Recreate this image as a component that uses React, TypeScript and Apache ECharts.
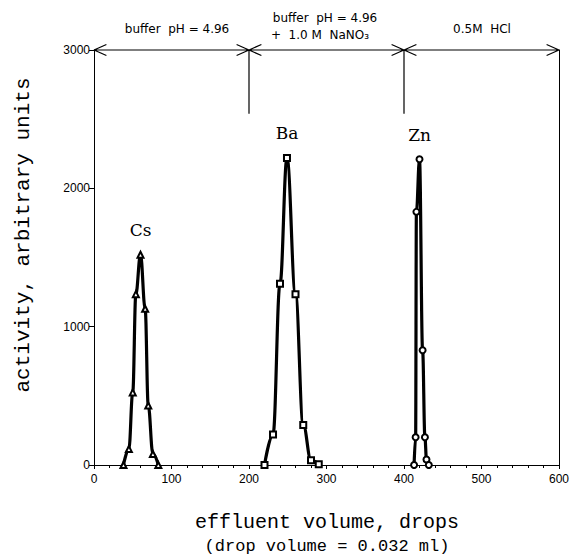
import React, { useEffect, useRef } from "react";
import * as echarts from "echarts";

// Elution data (effluent volume in drops, activity in arbitrary units)
const csDrops = [38, 45, 50, 54, 60, 66, 70, 76, 83];
const csActivity = [0, 115, 525, 1235, 1520, 1130, 430, 80, 0];

const baDrops = [220, 231, 240, 249, 260, 270, 280, 290];
const baActivity = [0, 220, 1310, 2220, 1235, 290, 35, 5];

const znDrops = [413, 415, 416, 420, 424, 427, 429, 432];
const znActivity = [0, 200, 1830, 2210, 830, 200, 40, 0];

// Eluent regions (bracket boundaries, drops) and labels
const regionBounds = [0, 200, 400, 600];
const dividerBottom = 2540;
const regionTop = 3000;

const xTicks = { min: 0, max: 600, interval: 100 };
const yTicks = { min: 0, max: 3000, interval: 1000 };

const zip = (xs: number[], ys: number[]) => xs.map((x, i) => [x, ys[i]]);

export default function App() {
  const ref = useRef<HTMLDivElement>(null);
  useEffect(() => {
    if (!ref.current) return;
    const chart = echarts.init(ref.current, undefined, { renderer: "svg" });

    const chevW = 16;
    const chevH = 40;
    const bracket: any[] = [];
    bracket.push([regionBounds[0], regionTop], [regionBounds[regionBounds.length - 1], regionTop], null);
    regionBounds.forEach((b, i) => {
      if (i > 0) {
        bracket.push([b - chevW, regionTop + chevH], [b, regionTop], [b - chevW, regionTop - chevH], null);
      }
      if (i < regionBounds.length - 1) {
        bracket.push([b + chevW, regionTop + chevH], [b, regionTop], [b + chevW, regionTop - chevH], null);
      }
      if (i > 0 && i < regionBounds.length - 1) {
        bracket.push([b, regionTop], [b, dividerBottom], null);
      }
    });

    const peakLabel = (name: string) => ({
      show: true,
      position: "top",
      distance: 12,
      formatter: name,
      fontFamily: "DejaVu Serif",
      fontSize: 17,
      color: "#000",
    });

    const mkSeries = (name: string, xs: number[], ys: number[], symbol: string) => {
      const peak = Math.max(...ys);
      const data = zip(xs, ys).map((p, i) =>
        ys[i] === peak ? { value: p, label: peakLabel(name) } : { value: p }
      );
      return {
        type: "line",
        name,
        data,
        smooth: 0.4,
        smoothMonotone: "x",
        symbol,
        symbolSize: 6,
        showAllSymbol: true,
        lineStyle: { color: "#000", width: 3.2 },
        itemStyle: { color: "#000", borderColor: "#000", borderWidth: 1.3 },
        z: 3,
      };
    };

    const textStyleSans = { fontFamily: "DejaVu Sans", fontSize: 12, fill: "#000" };

    chart.setOption({
      animation: false,
      backgroundColor: "#fff",
      grid: { left: 94, right: 14, top: 50, bottom: 90 },
      xAxis: {
        type: "value",
        min: xTicks.min,
        max: xTicks.max,
        interval: xTicks.interval,
        axisLine: { show: true, lineStyle: { color: "#000", width: 1 } },
        axisTick: { show: true, inside: false, length: 4, lineStyle: { color: "#000" } },
        minorTick: { show: true, splitNumber: 5, length: 3, lineStyle: { color: "#000" } },
        axisLabel: { color: "#000", fontFamily: "Liberation Sans", fontSize: 12, margin: 8, formatter: (v: number) => String(v) },
        splitLine: { show: false },
      },
      yAxis: [
        {
          type: "value",
          min: yTicks.min,
          max: yTicks.max,
          interval: yTicks.interval,
          axisLine: { show: true, lineStyle: { color: "#000", width: 1 } },
          axisTick: { show: true, inside: false, length: 5, lineStyle: { color: "#000" } },
          axisLabel: { color: "#000", fontFamily: "Liberation Sans", fontSize: 12, margin: 4, formatter: (v: number) => String(v) },
          splitLine: { show: false },
        },
        {
          type: "value",
          position: "right",
          min: yTicks.min,
          max: yTicks.max,
          interval: yTicks.interval,
          axisLine: { show: true, lineStyle: { color: "#000", width: 1 } },
          axisTick: { show: false },
          axisLabel: { show: false },
          splitLine: { show: false },
        },
      ],
      series: [
        {
          type: "line",
          data: bracket,
          symbol: "none",
          clip: false,
          connectNulls: false,
          lineStyle: { color: "#000", width: 1.2 },
          silent: true,
          z: 2,
        },
        mkSeries("Cs", csDrops, csActivity, "emptyTriangle"),
        mkSeries("Ba", baDrops, baActivity, "emptyRect"),
        mkSeries("Zn", znDrops, znActivity, "emptyCircle"),
      ],
      graphic: [
        { type: "text", x: 177, y: 29, style: { ...textStyleSans, text: "buffer  pH = 4.96", align: "center", verticalAlign: "middle" } },
        { type: "text", x: 325, y: 18, style: { ...textStyleSans, text: "buffer  pH = 4.96", align: "center", verticalAlign: "middle" } },
        { type: "text", x: 320, y: 35, style: { ...textStyleSans, text: "+  1.0 M  NaNO₃", align: "center", verticalAlign: "middle" } },
        { type: "text", x: 482, y: 29, style: { ...textStyleSans, text: "0.5M  HCl", align: "center", verticalAlign: "middle" } },
        {
          type: "text",
          x: 327,
          y: 522,
          style: { text: "effluent volume, drops", fontFamily: "Liberation Mono", fontSize: 20, fill: "#000", align: "center", verticalAlign: "middle" },
        },
        {
          type: "text",
          x: 327,
          y: 546,
          style: { text: "(drop volume = 0.032 ml)", fontFamily: "Liberation Mono", fontSize: 17, fill: "#000", align: "center", verticalAlign: "middle" },
        },
        {
          type: "text",
          x: 23,
          y: 235,
          rotation: Math.PI / 2,
          style: { text: "activity, arbitrary units", fontFamily: "Liberation Mono", fontSize: 21, fill: "#000", align: "center", verticalAlign: "middle" },
        },
      ],
    });
    return () => chart.dispose();
  }, []);
  return <div ref={ref} style={{ position: "fixed", left: 0, top: 0, width: 573, height: 555, background: "#fff" }} />;
}
